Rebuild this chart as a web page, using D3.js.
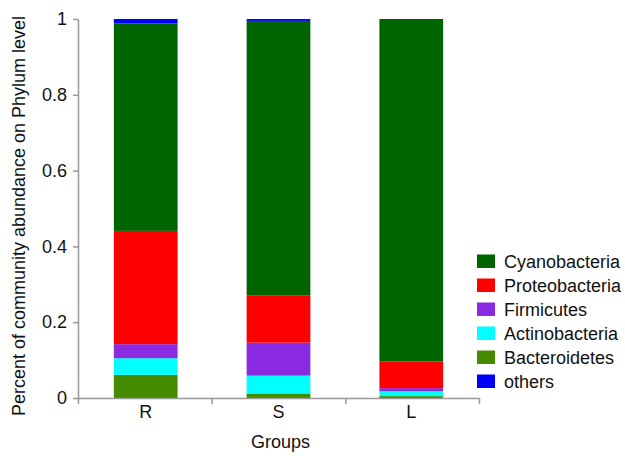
<!DOCTYPE html>
<html><head><meta charset="utf-8">
<script src="https://cdn.jsdelivr.net/npm/d3@7"></script>
<style>
html,body{margin:0;padding:0;background:#fff;}
text{font-family:"Liberation Sans",Arial,sans-serif;fill:#111;}
</style></head>
<body><svg id="c" width="625" height="456"></svg>
<script>
const groups = ["R", "S", "L"];
const phyla = ["Bacteroidetes", "Actinobacteria", "Firmicutes", "Proteobacteria", "Cyanobacteria", "others"];
const legendOrder = ["Cyanobacteria", "Proteobacteria", "Firmicutes", "Actinobacteria", "Bacteroidetes", "others"];
const colors = ["#458B00", "#00FFFF", "#8A2BE2", "#FF0000", "#006400", "#0000FF"];
const Bacteroidetes = [0.061, 0.012, 0.005];
const Actinobacteria = [0.044, 0.047, 0.013];
const Firmicutes = [0.037, 0.087, 0.008];
const Proteobacteria = [0.299, 0.124, 0.070];
const Cyanobacteria = [0.547, 0.725, 0.904];
const others = [0.012, 0.005, 0.000];
const yTicks = [0, 0.2, 0.4, 0.6, 0.8, 1];

const series = {Bacteroidetes, Actinobacteria, Firmicutes, Proteobacteria, Cyanobacteria, others};
const rows = groups.map((g, i) => {
  const r = {group: g};
  phyla.forEach(p => r[p] = series[p][i]);
  return r;
});
const stacked = d3.stack().keys(phyla)(rows);
const color = d3.scaleOrdinal().domain(phyla).range(colors);

const svg = d3.select("#c");
const L = 78, R = 479, T = 19, B = 398;
const x = d3.scaleBand().domain(groups).range([L, R]).paddingInner(0.52).paddingOuter(0.27);
const xl = d3.scaleLinear().domain([0, groups.length]).range([L, R]);
const y = d3.scaleLinear().domain([0, 1]).range([B, T]);

svg.append("g").selectAll("g").data(stacked).join("g")
  .attr("fill", d => color(d.key))
  .selectAll("rect").data(d => d).join("rect")
  .attr("x", d => x(d.data.group))
  .attr("width", x.bandwidth())
  .attr("y", d => y(d[1]))
  .attr("height", d => y(d[0]) - y(d[1]));

const ya = svg.append("g").attr("transform", `translate(${L},0)`)
  .call(d3.axisLeft(y).tickValues(yTicks).tickFormat(d => String(d)).tickSize(5).tickSizeOuter(0).tickPadding(6));
ya.selectAll("text").style("font-size", "18px");

const xb = svg.append("g").attr("transform", `translate(0,${B})`)
  .call(d3.axisBottom(xl).tickValues(d3.range(groups.length + 1)).tickFormat("").tickSize(6).tickSizeOuter(0));
const xa = svg.append("g").attr("transform", `translate(0,${B})`)
  .call(d3.axisBottom(x).tickSize(0).tickPadding(7));
xa.select(".domain").remove();
xa.selectAll("text").style("font-size", "18px");

svg.selectAll(".domain, .tick line").attr("stroke", "#999").attr("stroke-width", 1.5);
svg.selectAll(".tick text").attr("fill", "#111");

svg.append("text").attr("x", (L + R) / 2 + 2).attr("y", 448)
  .attr("text-anchor", "middle").style("font-size", "18px").text("Groups");
svg.append("text").attr("transform", "translate(25,216) rotate(-90)")
  .attr("text-anchor", "middle").style("font-size", "18px")
  .text("Percent of community abundance on Phylum level");

const lg = svg.append("g").attr("transform", "translate(477,254.5)");
const li = lg.selectAll("g").data(legendOrder).join("g")
  .attr("transform", (d, i) => `translate(0,${i * 24})`);
li.append("rect").attr("width", 18).attr("height", 13.5).attr("fill", d => color(d));
li.append("text").attr("x", 27).attr("y", 7).attr("dy", "0.35em")
  .style("font-size", "18px").text(d => d);
</script></body></html>
